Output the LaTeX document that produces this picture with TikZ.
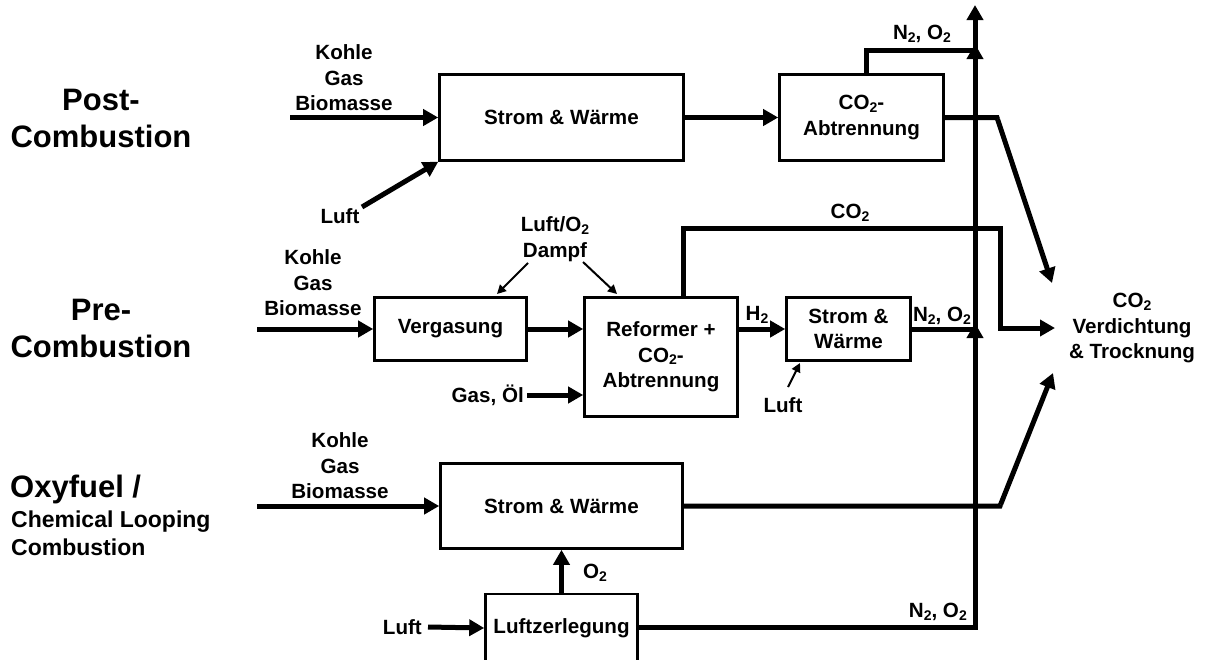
\documentclass[tikz,border=0pt]{standalone}
\usepackage{fontspec}
\setmainfont{Liberation Sans}
\usetikzlibrary{arrows.meta,calc}
\newcommand{\ttwo}{\raisebox{-2.5pt}{\fontsize{14}{14}\selectfont 2}}
\begin{document}
\begin{tikzpicture}[x=1pt,y=-1pt,
  font=\bfseries\fontsize{20.6}{25.5}\selectfont,
  box/.style={draw, line width=2.6pt, inner sep=0pt, align=center},
  flow/.style={line width=5pt},
  arr/.style={line width=5pt, -{Triangle[length=15pt,width=16pt]}},
  thinarr/.style={line width=2pt, -{Triangle[length=9pt,width=9pt]}},
  lbl/.style={align=center, inner sep=1pt},
  big/.style={align=center, inner sep=0pt, font=\bfseries\fontsize{31}{37}\selectfont},
  mid/.style={align=left, inner sep=0pt, font=\bfseries\fontsize{23}{28}\selectfont}]
\useasboundingbox (0,0) rectangle (1206,659);

% ---------- row labels ----------
\node[big] (postlbl) at (101,118) {Post-\\Combustion};
\node[big] (prelbl) at (101,328) {Pre-\\Combustion};
\node[big, anchor=west] (oxylbl) at (10,489) {Oxyfuel /};
\node[mid, anchor=north west] (cllbl) at (11,511) {Chemical Looping\\Combustion};

% ---------- boxes ----------
\node[box, minimum width=244pt, minimum height=86pt] (b1) at (561.5,117.5) {Strom \& Wärme};
\node[box, minimum width=164pt, minimum height=86pt] (b2) at (861.5,117.5) {CO\ttwo-\\Abtrennung};
\node[box, minimum width=152pt, minimum height=63pt] (verg) at (450.5,329) {Vergasung};
\node[box, minimum width=153pt, minimum height=119pt] (ref) at (661,357) {Reformer +\\CO\ttwo-\\Abtrennung};
\node[box, minimum width=124pt, minimum height=63pt] (sw2) at (848.5,329) {Strom \&\\Wärme};
\node[box, minimum width=242pt, minimum height=85pt] (b3) at (561.5,506) {Strom \& Wärme};
\node[box, minimum width=152pt, minimum height=68pt] (lz) at (561.5,628) {Luftzerlegung};

% ---------- text labels ----------
\node[lbl] (fuel1) at (344,78) {Kohle\\Gas\\Biomasse};
\node[lbl] (luft1) at (340,216) {Luft};
\node[lbl] (fuel2) at (313,283) {Kohle\\Gas\\Biomasse};
\node[lbl] (dampf) at (555,239) {Luft/O\ttwo\\Dampf};
\node[lbl, anchor=east, inner sep=3pt] (gasoel) at (527,395) {Gas, Öl};
\node[lbl] (h2) at (757,315) {H\ttwo};
\node[lbl] (luft2) at (783,405) {Luft};
\node[lbl] (co2) at (850,213) {CO\ttwo};
\node[lbl] (n2a) at (922,34) {N\ttwo, O\ttwo};
\node[lbl] (n2b) at (942,316) {N\ttwo, O\ttwo};
\node[lbl, anchor=east] (n2c) at (968,612) {N\ttwo, O\ttwo};
\node[lbl] (fuel3) at (340,466) {Kohle\\Gas\\Biomasse};
\node[lbl] (o2) at (595,573) {O\ttwo};
\node[lbl, anchor=east, inner sep=6pt] (luft3) at (428,627) {Luft};
\node[lbl] (ziel) at (1132,328) {CO\ttwo\\Verdichtung\\\& Trocknung};

% ---------- coordinates ----------
\coordinate (in1) at (290,117.5);
\coordinate (in2) at (257,329);
\coordinate (in3) at (257,506);
\coordinate (l1s) at (362,207);
\coordinate (j1) at (975,50);
\coordinate (j1t) at (975,44);
\coordinate (j2) at (975,329);
\coordinate (j2t) at (975,323);
\coordinate (top) at (975,5);
\coordinate (jb) at (975,627);
\coordinate (k1) at (997,117.5);
\coordinate (t1) at (1052,283);
\coordinate (r1) at (683,228);
\coordinate (r2) at (1000,228);
\coordinate (t2) at (1055,328);
\coordinate (k3) at (1000,506);
\coordinate (t3) at (1053,373);
\coordinate (d1) at (528,263);
\coordinate (d1e) at (497,294);
\coordinate (d2) at (583,262);
\coordinate (d2e) at (617,294);
\coordinate (l2s) at (788,387);
\coordinate (l2e) at (800,363);

% ---------- post-combustion ----------
\draw[arr] (in1) -- (b1.west);
\draw[arr] (l1s) -- (b1.south west);
\draw[arr] (b1.east) -- (b2.west);
\draw[flow] ($(b2.north west)+(88,0)$) |- (j1);
\draw[flow] (b2.east) -- (k1) -- ($(k1)!0.01!(t1)$);
\draw[arr] ($(k1)!0.01!(t1)$) -- (t1);

% ---------- pre-combustion ----------
\draw[arr] (in2) -- (verg.west);
\draw[arr] (verg.east) -- (verg.east -| ref.west);
\draw[arr] (gasoel.east) -- (gasoel.east -| ref.west);
\draw[thinarr] (d1) -- (d1e);
\draw[thinarr] (d2) -- (d2e);
\draw[arr] (sw2.west -| ref.east) -- (sw2.west);
\draw[thinarr] (l2s) -- (l2e);
\draw[flow] (sw2.east) -- (j2);
\draw[flow] (ref.north -| r1) -- (r1) -- (r2) -- (1000,328) -- (1005,328);
\draw[arr] (1004,328) -- (t2);

% ---------- oxyfuel ----------
\draw[arr] (in3) -- (b3.west);
\draw[arr] (lz.north) -- (b3.south);
\draw[arr] (luft3.east) -- (lz.west);
\draw[flow] (b3.east) -- (k3) -- ($(k3)!0.01!(t3)$);
\draw[arr] ($(k3)!0.01!(t3)$) -- (t3);

% ---------- vertical collector ----------
\draw[flow] (lz.east |- jb) -- (jb) -- (975,600);
\draw[arr] (975,601) -- (j2t);
\draw[arr] (j2) -- (j1t);
\draw[arr] (j1) -- (top);
\end{tikzpicture}
\end{document}
